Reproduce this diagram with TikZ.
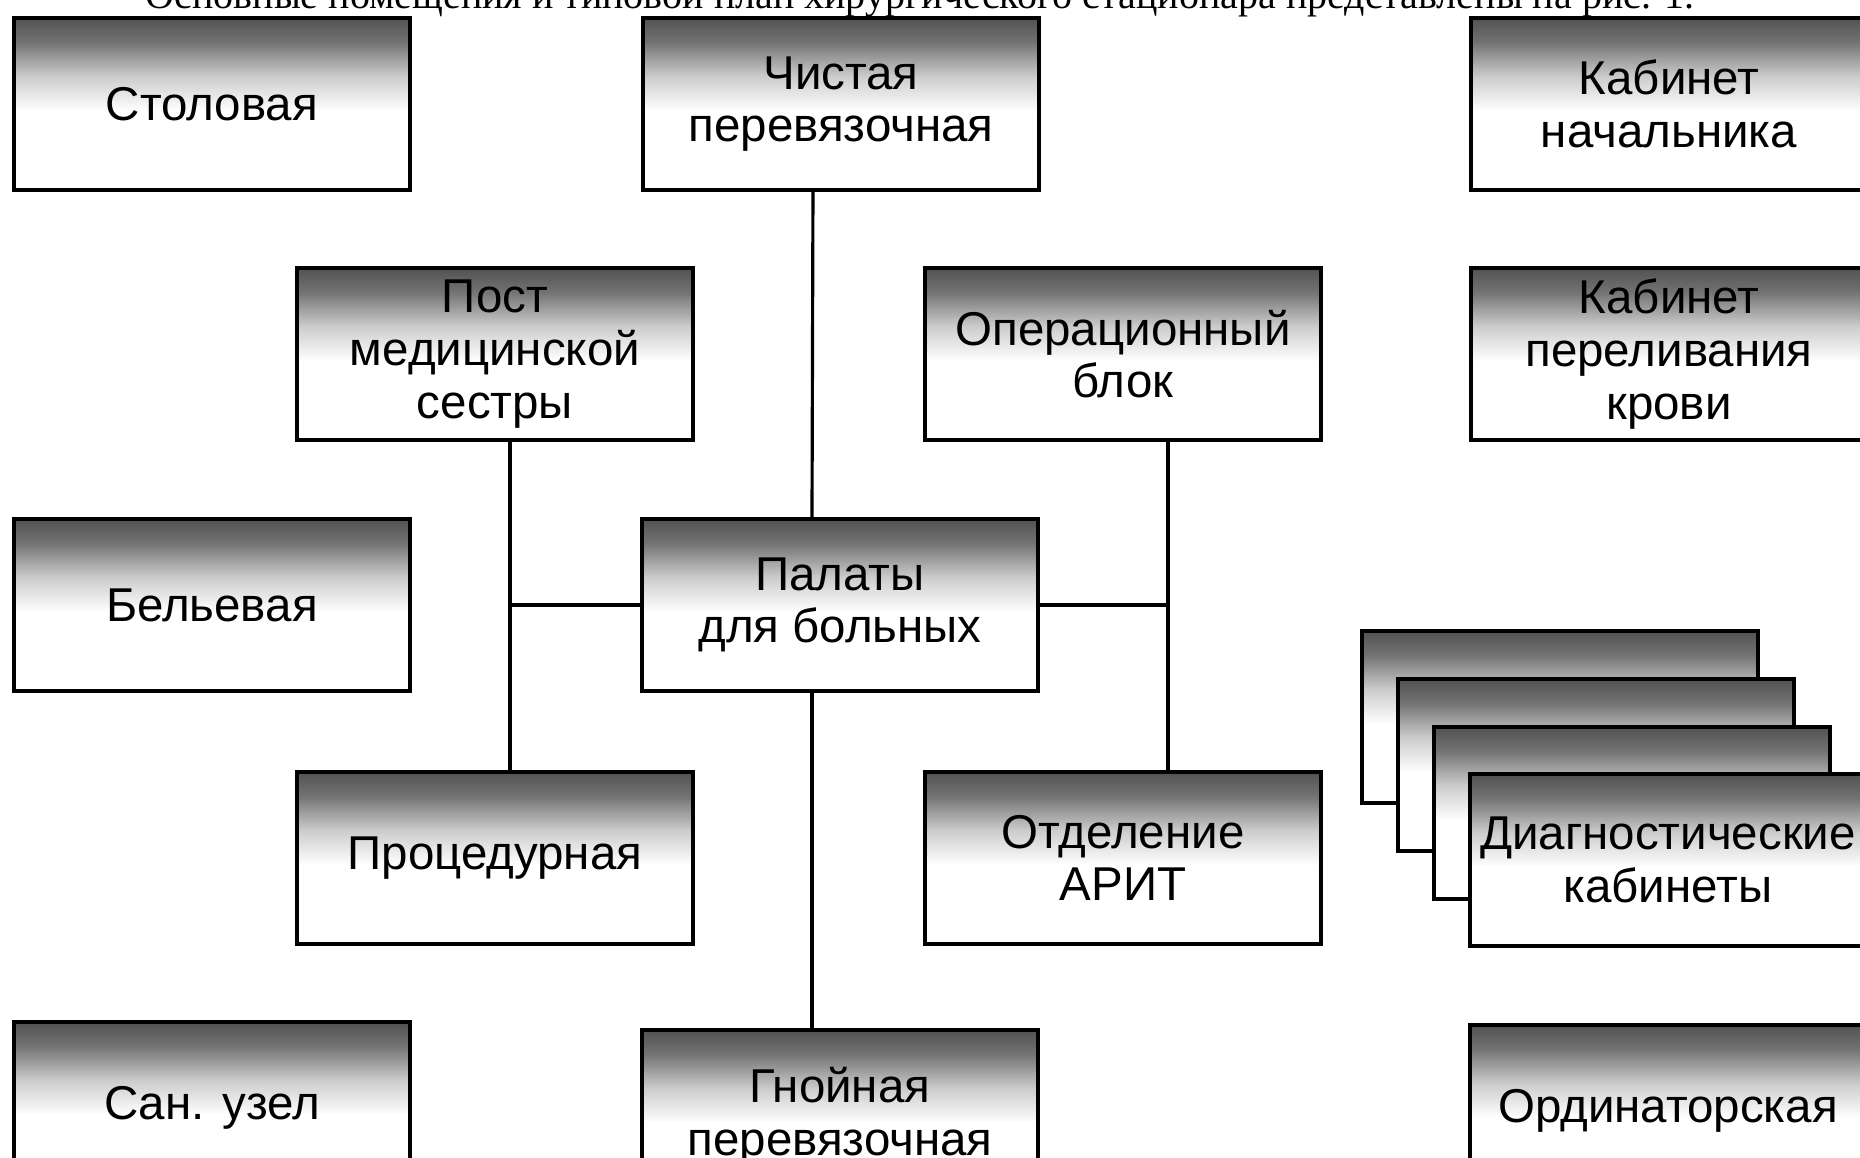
\documentclass[tikz,border=0pt]{standalone}
\usepackage{fontspec}
\setmainfont{Liberation Sans}
\newfontfamily\captionserif{Liberation Serif}
\pgfdeclareverticalshading{roomfade}{100bp}{color(0bp)=(white); color(48bp)=(white);
  color(58bp)=(black!20); color(68bp)=(black!55); color(75bp)=(black!68); color(100bp)=(black!68)}

\begin{document}
\begin{tikzpicture}[x=0.01cm, y=-0.01cm,
    room/.style={draw, line width=1pt, fill=white, inner sep=0pt, outer sep=0pt,
      minimum width=3.96cm, minimum height=1.72cm, align=center,
      font=\fontsize{13.5pt}{15pt}\selectfont,
      path picture={\shade[shading=roomfade]
        (path picture bounding box.north west) rectangle
        (path picture bounding box.south east);}},
    link/.style={line width=0.9pt}]
    \useasboundingbox (0,0) rectangle (1860,1158);
    \clip (0,0) rectangle (1860,1158);
    % cut-off caption line of the page
    \node[anchor=base west, inner sep=0pt, font=\captionserif] (caption) at (145,9)
      {\resizebox{15.48cm}{!}{Основные помещения и типовой план хирургического стационара представлены на рис. 1.}};
    % left column
    \node[room] (stol) at (212,104) {Столовая};
    \node[room] (belev) at (212,605) {Бельевая};
    \node[room] (san) at (212,1108) {Сан. узел};
    % middle columns
    \node[room] (chist) at (841,104) {Чистая\\перевязочная};
    \node[room] (post) at (495,354) {Пост\\медицинской\\сестры};
    \node[room] (oper) at (1123,354) {Операционный\\блок};
    \node[room] (palaty) at (840,605) {Палаты\\для больных};
    \node[room] (proc) at (495,858) {Процедурная};
    \node[room] (arit) at (1123,858) {Отделение\\АРИТ};
    \node[room] (gnoin) at (840,1116) {Гнойная\\перевязочная};
    % right column
    \node[room] (kabnach) at (1669,104) {Кабинет\\начальника};
    \node[room] (krov) at (1669,354) {Кабинет\\переливания\\крови};
    \node[room] (diag1) at (1560,717) {};
    \node[room] (diag2) at (1596,765) {};
    \node[room] (diag3) at (1632,813) {};
    \node[room] (diag) at (1668,860) {Диагностические\\кабинеты};
    \node[room] (ordin) at (1668,1111) {Ординаторская};
    % connections
    \coordinate (postline) at ([xshift=0.15cm]post.south);
    \coordinate (operline) at ([xshift=0.45cm]oper.south);
    \draw[link] ([xshift=-0.28cm]chist.south) -- ([xshift=-0.28cm]palaty.north);
    \draw[link] ([xshift=-0.28cm]palaty.south) -- ([xshift=-0.28cm]gnoin.north);
    \draw[link] (postline) -- (postline |- proc.north);
    \draw[link] (operline) -- (operline |- arit.north);
    \draw[link] (palaty.west) -- (palaty.west -| postline);
    \draw[link] (palaty.east) -- (palaty.east -| operline);
\end{tikzpicture}
\end{document}
